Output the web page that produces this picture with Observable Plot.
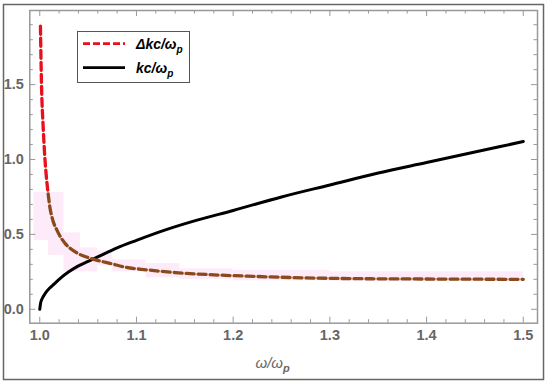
<!DOCTYPE html>
<html><head><meta charset="utf-8">
<script src="https://cdn.jsdelivr.net/npm/d3@7"></script>
<script src="https://cdn.jsdelivr.net/npm/@observablehq/plot@0.6"></script>
<style>body{margin:0;background:#fff}#chart{width:550px;height:384px}</style>
</head><body><div id="chart"></div>
<script>
// kc/ωp curve
const omegaK = [1.0, 1.001, 1.003, 1.006, 1.01, 1.015, 1.02, 1.03, 1.04, 1.05, 1.06, 1.08, 1.1, 1.13, 1.16, 1.2, 1.25, 1.3, 1.35, 1.4, 1.45, 1.5];
const kc     = [0.0, 0.045, 0.077, 0.11, 0.14, 0.17, 0.20, 0.25, 0.29, 0.32, 0.35, 0.41, 0.46, 0.53, 0.59, 0.66, 0.75, 0.83, 0.91, 0.98, 1.05, 1.12];
// Δkc/ωp curve
const omegaDk = [1.0007, 1.0018, 1.0035, 1.0049, 1.0066, 1.0087, 1.0105, 1.0128, 1.018, 1.0266, 1.034, 1.0403, 1.0542, 1.0749, 1.0886, 1.111, 1.14, 1.18, 1.22, 1.26, 1.32, 1.4, 1.5];
const dk      = [1.89, 1.5, 1.22, 1.05, 0.90, 0.77, 0.68, 0.61, 0.525, 0.437, 0.395, 0.37, 0.337, 0.303, 0.281, 0.263, 0.245, 0.23, 0.22, 0.212, 0.205, 0.202, 0.2];
// pink shaded blocks around Δk
const bandX1 = [0.994, 1.009, 1.025, 1.042, 1.075, 1.11, 1.145, 1.2, 1.3];
const bandX2 = [1.025, 1.042, 1.060, 1.075, 1.11, 1.145, 1.2, 1.3, 1.5];
const bandY1 = [0.46, 0.36, 0.25, 0.29, 0.25, 0.21, 0.20, 0.19, 0.187];
const bandY2 = [0.78, 0.51, 0.41, 0.39, 0.33, 0.305, 0.27, 0.26, 0.25];
// tick labels
const xTickLabels = [1.0, 1.1, 1.2, 1.3, 1.4, 1.5];
const yTickLabels = [0.0, 0.5, 1.0, 1.5];
const legendLabels = ["Δkc/ωp", "kc/ωp"];

const W = 550, H = 384, mL = 29.3, mR = 13, mT = 10, mB = 61.3;
const fw = W - mL - mR, fh = H - mT - mB;
const kData = omegaK.map((x, i) => ({x, y: kc[i]}));
const dData = omegaDk.map((x, i) => ({x, y: dk[i]}));
const dRed = dData.filter(d => d.y >= 0.77);
const dBrown = dData.filter(d => d.y <= 0.77);
const band = bandX1.map((x1, i) => ({x1, x2: bandX2[i], y1: bandY1[i], y2: bandY2[i]}));
const xMinor = d3.range(1.0, 1.5001, 0.02).filter(v => Math.abs(v*10 - Math.round(v*10)) > 1e-6);
const yMinor = d3.range(0.1, 1.95, 0.1).filter(v => Math.abs(v*2 - Math.round(v*2)) > 1e-6);
const tickC = "#999", majL = 6, minL = 3.5;
const red = "#e8101c", brown = "#8a4a1c";
const dash = "8,4";

const plot = Plot.plot({
  width: W, height: H,
  marginLeft: mL, marginRight: mR, marginTop: mT, marginBottom: mB,
  x: {domain: [0.9897, 1.5147], axis: null},
  y: {domain: [-0.093, 1.995], axis: null},
  style: {fontFamily: "Liberation Sans, Arial, sans-serif", background: "#fff"},
  marks: [
    Plot.rect(band, {x1: "x1", x2: "x2", y1: "y1", y2: "y2", fill: "#fdebf9"}),
    Plot.line(kData, {x: "x", y: "y", stroke: "#000", strokeWidth: 3, curve: "monotone-x"}),
    Plot.line(dRed, {x: "x", y: "y", stroke: red, strokeWidth: 3.3, strokeDasharray: dash, curve: "monotone-x"}),
    Plot.line(dBrown, {x: "x", y: "y", stroke: brown, strokeWidth: 3.3, strokeDasharray: dash, curve: "monotone-x"}),
    Plot.frame({stroke: "#999", strokeWidth: 1.5}),
    Plot.tickX(xTickLabels, {x: d => d, insetTop: fh - majL, stroke: tickC}),
    Plot.tickX(xMinor, {x: d => d, insetTop: fh - minL, stroke: tickC}),
    Plot.tickX(xTickLabels, {x: d => d, insetBottom: fh - majL, stroke: tickC}),
    Plot.tickX(xMinor, {x: d => d, insetBottom: fh - minL, stroke: tickC}),
    Plot.tickY(yTickLabels, {y: d => d, insetRight: fw - majL, stroke: tickC}),
    Plot.tickY(yMinor, {y: d => d, insetRight: fw - minL, stroke: tickC}),
    Plot.tickY(yTickLabels, {y: d => d, insetLeft: fw - majL, stroke: tickC}),
    Plot.tickY(yMinor, {y: d => d, insetLeft: fw - minL, stroke: tickC}),
    Plot.text(xTickLabels, {x: d => d, text: d => d.toFixed(1), frameAnchor: "bottom", dy: 17, fontSize: 14.5, fontWeight: "bold", fill: "#666"}),
    Plot.text(yTickLabels, {y: d => d, text: d => d.toFixed(1), frameAnchor: "left", dx: -6, textAnchor: "end", fontSize: 14.5, fontWeight: "bold", fill: "#666"}),
    Plot.text(["ω/ωp"], {frameAnchor: "bottom", dx: -11, dy: 45, text: d => d, fontSize: 15, fill: "#666"})
  ]
});
document.getElementById("chart").appendChild(plot);

const svg = d3.select(plot);
svg.selectAll("text").filter(function () { return this.textContent === "ω/ωp"; }).each(function () {
  const xl = d3.select(this);
  xl.text(null);
  xl.append("tspan").attr("font-style", "italic").text("ω/ω");
  xl.append("tspan").attr("font-weight", "bold").attr("font-style", "italic").attr("font-size", 11).attr("dy", 4).text("p");
});

// outer border
svg.append("rect").attr("x", 3.5).attr("y", 4.5).attr("width", 540).attr("height", 375)
  .attr("fill", "none").attr("stroke", "#666").attr("stroke-width", 1.5);

// legend
const lg = svg.append("g").attr("text-anchor", "start");
lg.append("rect").attr("x", 77.5).attr("y", 31.5).attr("width", 112).attr("height", 51)
  .attr("fill", "#fff").attr("stroke", "#555").attr("stroke-width", 1);
const rows = [{y: 43.7, stroke: red, dash: "7,3"}, {y: 67.7, stroke: "#000", dash: null}];
rows.forEach((r, i) => {
  lg.append("line").attr("x1", 83).attr("x2", 125).attr("y1", r.y).attr("y2", r.y)
    .attr("stroke", r.stroke).attr("stroke-width", 2.8).attr("stroke-dasharray", r.dash);
  const t = lg.append("text").attr("x", 136).attr("y", r.y + 5).attr("font-size", 14)
    .attr("text-anchor", "start")
    .attr("font-weight", "bold").attr("font-style", "italic").attr("fill", "#000");
  const lab = legendLabels[i];
  t.append("tspan").text(lab.slice(0, -1));
  t.append("tspan").attr("font-size", 10).attr("dy", 4).text(lab.slice(-1));
});
</script>
</body></html>
